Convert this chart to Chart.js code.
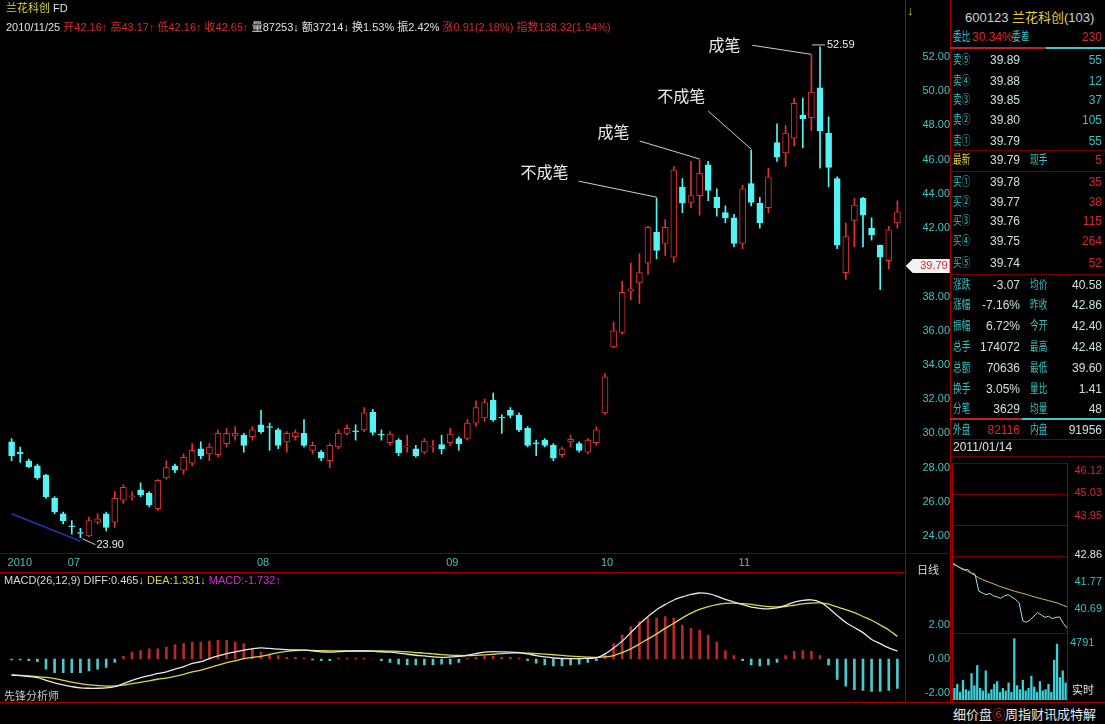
<!DOCTYPE html>
<html><head><meta charset="utf-8">
<script src="https://cdn.jsdelivr.net/npm/chart.js@4.4.0/dist/chart.umd.min.js"></script>
<style>
html,body{margin:0;padding:0;background:#000;}
#root{position:relative;width:1105px;height:724px;overflow:hidden;background:#000;font-family:"Liberation Sans","Noto Sans CJK SC",sans-serif;}
canvas{position:absolute;}
.t{position:absolute;white-space:nowrap;line-height:1;}
.ln{position:absolute;}
</style></head><body><div id="root">
<canvas id="kc" width="950" height="572" style="left:0;top:0"></canvas>
<canvas id="mc" width="950" height="131" style="left:0;top:572px"></canvas>
<canvas id="ic" width="114" height="170" style="left:953px;top:463px"></canvas>
<canvas id="vc" width="114" height="67" style="left:953px;top:633px"></canvas>
</div>
<script>
// ---------------- DATA ----------------
const opens = [29.5,28.9,28.4,28.1,27.55,26.2,25.3,24.6,24.2,24.0,24.8,25.3,24.8,26.1,26.3,26.7,26.5,25.6,27.4,28.1,27.85,28.25,29.1,28.8,28.75,29.4,29.85,29.9,29.8,30.5,30.4,30.2,29.5,29.8,30.0,29.0,28.9,28.4,29.2,30.0,30.15,30.2,31.25,29.95,29.45,29.6,29.2,29.1,28.9,29.2,29.35,29.45,29.7,29.7,30.6,30.9,31.95,30.95,31.35,31.05,30.3,29.45,29.6,29.3,28.75,29.5,29.4,28.9,29.45,31.2,35.05,35.9,38.3,38.8,39.95,41.75,41.1,40.3,44.4,43.5,43.9,45.7,43.8,42.9,42.6,41.1,44.6,43.45,43.2,47.0,46.4,47.25,48.6,48.45,50.2,47.55,44.9,39.4,42.45,43.75,42.0,41.0,40.1,42.3];
const highs = [29.7,29.2,28.5,28.2,27.6,26.3,25.4,24.9,24.45,25.1,25.3,25.4,26.6,27.0,26.6,27.1,26.6,27.3,28.4,28.2,28.8,29.4,29.5,29.4,30.2,30.3,30.4,30.0,30.4,31.35,30.6,30.3,30.1,30.2,30.8,29.5,29.0,29.4,30.2,30.5,30.5,31.5,31.4,30.2,30.1,29.7,29.9,29.3,29.7,29.6,29.9,30.3,29.8,30.8,31.9,32.0,32.35,31.1,31.5,31.2,30.4,29.6,29.7,29.4,29.2,29.9,29.5,29.7,30.4,33.5,36.5,38.9,39.95,40.5,42.1,43.75,42.5,45.6,44.9,45.9,45.98,45.9,44.3,43.3,42.8,44.5,46.56,43.8,45.5,48.1,48.0,49.6,49.6,52.1,52.59,48.5,45.0,42.3,43.75,43.8,42.6,41.0,42.1,43.6];
const lows = [28.4,28.3,28.0,27.3,26.2,25.3,24.7,24.1,23.9,23.95,24.7,24.3,24.5,25.9,26.1,26.3,25.7,25.5,27.3,27.7,27.6,28.1,28.5,28.4,28.6,29.2,29.6,28.9,29.6,30.0,29.0,29.1,28.9,29.6,29.2,28.8,28.4,28.0,29.1,29.9,29.6,30.1,29.9,29.6,29.3,28.7,28.9,28.6,28.8,28.9,28.8,29.3,29.0,29.6,30.4,30.7,30.7,30.0,30.9,30.1,29.2,28.7,29.2,28.4,28.6,29.2,28.9,28.8,29.3,31.1,35.0,35.8,37.8,37.6,39.3,40.2,40.4,40.0,42.9,43.2,42.76,43.6,42.7,42.3,40.9,40.8,43.3,42.0,42.9,45.9,45.6,46.8,46.7,47.7,45.5,44.4,40.8,39.0,40.9,40.9,41.3,38.4,39.6,42.0];
const closes = [28.7,28.8,28.05,27.4,26.3,25.4,24.9,24.55,24.15,24.9,25.0,24.5,26.2,26.85,26.35,26.4,25.8,27.25,28.0,27.85,28.6,29.0,28.7,29.2,30.0,30.0,30.0,29.3,30.2,30.1,30.35,29.3,30.0,30.05,29.3,29.3,28.55,29.3,30.0,30.3,30.1,31.2,30.05,29.9,29.95,28.85,29.25,28.7,29.55,29.25,29.1,29.95,29.4,30.6,31.5,31.8,30.8,30.9,31.05,30.2,29.3,29.4,29.3,28.55,29.1,29.65,29.0,29.6,30.2,33.3,36.0,38.25,38.45,39.4,42.05,40.7,42.05,45.4,43.45,43.9,45.2,44.2,43.2,42.6,41.1,44.3,43.5,42.3,45.0,46.15,47.55,49.3,48.4,49.95,47.7,45.55,41.0,41.5,43.35,42.75,41.6,40.3,41.9,42.95];

const diffVals = [-0.94,-0.98,-1.03,-1.10,-1.25,-1.40,-1.52,-1.62,-1.70,-1.72,-1.72,-1.70,-1.62,-1.45,-1.26,-1.10,-0.98,-0.85,-0.76,-0.60,-0.45,-0.26,-0.16,0.02,0.18,0.32,0.42,0.52,0.60,0.65,0.62,0.58,0.55,0.53,0.52,0.48,0.42,0.40,0.43,0.46,0.47,0.47,0.46,0.42,0.40,0.35,0.28,0.22,0.18,0.12,0.10,0.12,0.15,0.22,0.32,0.40,0.43,0.42,0.41,0.38,0.30,0.20,0.12,0.06,0.03,0.02,0.02,0.04,0.06,0.30,0.65,1.05,1.55,2.05,2.50,2.90,3.20,3.47,3.65,3.80,3.88,3.84,3.70,3.50,3.35,3.20,3.05,2.98,2.95,3.00,3.15,3.35,3.45,3.48,3.35,3.00,2.55,2.15,1.85,1.55,1.15,0.90,0.65,0.465];
const deaVals = [-0.94,-0.96,-0.99,-1.03,-1.08,-1.15,-1.25,-1.36,-1.45,-1.52,-1.56,-1.59,-1.59,-1.53,-1.45,-1.38,-1.28,-1.19,-1.12,-1.02,-0.90,-0.76,-0.65,-0.50,-0.36,-0.22,-0.10,0.02,0.10,0.16,0.26,0.38,0.45,0.50,0.52,0.50,0.49,0.48,0.47,0.47,0.47,0.47,0.47,0.47,0.46,0.45,0.42,0.38,0.35,0.30,0.26,0.23,0.21,0.20,0.21,0.24,0.28,0.32,0.35,0.36,0.35,0.32,0.29,0.25,0.21,0.17,0.14,0.11,0.09,0.12,0.20,0.38,0.60,0.88,1.18,1.48,1.80,2.10,2.42,2.70,2.92,3.08,3.20,3.27,3.28,3.26,3.21,3.14,3.08,3.06,3.08,3.16,3.24,3.29,3.30,3.22,3.06,2.90,2.72,2.50,2.28,2.00,1.70,1.331];
const macdVals = [-0.05,-0.05,-0.1,-0.15,-0.6,-0.8,-0.8,-0.8,-0.8,-0.7,-0.6,-0.5,-0.2,0.15,0.4,0.5,0.6,0.6,0.7,0.85,0.9,1.0,1.0,1.05,1.1,1.1,1.0,0.9,0.6,0.4,0.3,0.2,0.1,0.1,0.05,-0.05,-0.1,-0.1,0.05,0.05,0.05,0.05,0,-0.1,-0.2,-0.3,-0.35,-0.35,-0.35,-0.35,-0.3,-0.3,-0.2,0.05,0.1,0.15,0.15,0.1,0.1,0.05,-0.1,-0.25,-0.35,-0.4,-0.4,-0.35,-0.3,-0.2,-0.1,0.3,0.9,1.4,1.9,2.2,2.4,2.4,2.5,2.4,2.0,1.8,1.7,1.4,1.0,0.5,0.2,-0.1,-0.35,-0.4,-0.35,-0.2,0.2,0.45,0.5,0.45,0.2,-0.35,-1.2,-1.6,-1.8,-1.85,-1.9,-1.9,-1.85,-1.732];

const categories = opens.map((_, i) => 'D' + (i + 1));
const monthTickIdx = [0, 7, 29, 51, 69, 85];
const monthTickText = ['2010', '07', '08', '09', '10', '11'];
const priceTicks = [24, 26, 28, 30, 32, 34, 36, 38, 42, 44, 46, 48, 50, 52];
const macdTicks = [-2, 0, 2];

const trendIdx = [0, 8];
const trendVal = [25.3, 23.7];

const calloutText = ['不成笔', '成笔', '不成笔', '成笔'];
const calloutIdx = [75, 80, 86, 93];
const highLabelIdx = 94;   // 52.59
const lowLabelIdx = 8;     // 23.90
const lastPrice = 39.79;

// intraday mini chart
const intraPrice = [42.57,42.45,42.35,42.28,42.30,42.15,42.10,41.40,41.32,41.25,41.30,41.20,41.15,41.10,41.20,41.25,41.15,41.05,40.90,40.15,40.10,40.20,40.35,40.50,40.40,40.30,40.35,40.25,40.30,40.32,40.05,39.86];
const intraAvg = [42.50,42.45,42.38,42.30,42.22,42.14,42.05,41.95,41.88,41.82,41.76,41.70,41.64,41.58,41.53,41.48,41.43,41.38,41.34,41.30,41.26,41.21,41.16,41.12,41.08,41.04,41.00,40.96,40.92,40.86,40.80,40.75];
const intraVol = [900,1200,600,1500,800,700,2000,1100,2600,900,700,2200,500,800,1200,1400,600,900,700,1300,600,4600,1100,800,1500,700,900,1800,1000,600,1400,700,800,1200,600,3000,4200,1700,2200,1300];

// quote panel
const sellLabels = ['卖⑤','卖④','卖③','卖②','卖①'];
const sellPrices = ['39.89','39.88','39.85','39.80','39.79'];
const sellVols = ['55','12','37','105','55'];
const buyLabels = ['买①','买②','买③','买④','买⑤'];
const buyPrices = ['39.78','39.77','39.76','39.75','39.74'];
const buyVols = ['35','38','115','264','52'];
const statLabelsL = ['涨跌','涨幅','振幅','总手','总额','换手','分笔'];
const statValsL = ['-3.07','-7.16%','6.72%','174072','70636','3.05%','3629'];
const statLabelsR = ['均价','昨收','今开','最高','最低','量比','均量'];
const statValsR = ['40.58','42.86','42.40','42.48','39.60','1.41','48'];
const intraLabels = ['46.12','45.03','43.95','42.86','41.77','40.69'];

// ---------------- STYLE / LAYOUT ----------------
const C = { up:'#e03232', down:'#54f4f4', tick:'#46c2c2', frame:'#a00000', dim:'#700000',
            lbl:'#38c0c0', val:'#c8e0e0', red:'#d42a2a', yel:'#e0d040', white:'#e0e0e0' };
const calloutTextOff = [[-136,-25],[-102,-27],[-94,-53],[-103,-9]];
const calloutLineOff = [[-78,-16],[-60,-18],[-43,-38],[-59,-9]];
const NARROW = { transform: 'scaleX(0.72)', transformOrigin: 'left center' };

Chart.defaults.font.family = 'Liberation Sans';

const wicks = lows.map((l, i) => [l, highs[i]]);
const bodies = opens.map((o, i) => [o, closes[i]]);
const isUp = opens.map((o, i) => closes[i] >= o);
const trendLine = opens.map(() => null);
trendIdx.forEach((idx, k) => { trendLine[idx] = trendVal[k]; });

const fitRight = s => { s.width = 48.3; s.paddingTop = 0; s.paddingBottom = 0; };

const kPlugin = {
  id: 'kextras',
  afterDraw(chart) {
    const { ctx, chartArea, scales: { x, y } } = chart;
    ctx.save();
    ctx.textBaseline = 'middle';
    ctx.font = '11px "Liberation Sans"';
    ctx.fillStyle = C.tick; ctx.textAlign = 'left';
    monthTickIdx.forEach((idx, k) => ctx.fillText(monthTickText[k], x.getPixelForValue(idx) - 4, chartArea.bottom + 13));
    ctx.strokeStyle = '#cfcfcf'; ctx.lineWidth = 1; ctx.fillStyle = '#ececec';
    ctx.font = '16px "Noto Sans CJK SC"';
    calloutIdx.forEach((idx, k) => {
      const ax = x.getPixelForValue(idx), ay = y.getPixelForValue(highs[idx]) - 1;
      ctx.beginPath();
      ctx.moveTo(ax + calloutLineOff[k][0], ay + calloutLineOff[k][1]);
      ctx.lineTo(ax, ay); ctx.stroke();
      ctx.fillText(calloutText[k], ax + calloutTextOff[k][0], ay + calloutTextOff[k][1]);
    });
    ctx.font = '11px "Liberation Sans"';
    const hx = x.getPixelForValue(highLabelIdx), hy = y.getPixelForValue(highs[highLabelIdx]) - 2;
    ctx.beginPath(); ctx.moveTo(hx - 8, hy); ctx.lineTo(hx + 5, hy); ctx.stroke();
    ctx.fillText(highs[highLabelIdx].toFixed(2), hx + 7, hy);
    const lx = x.getPixelForValue(lowLabelIdx), ly = y.getPixelForValue(lows[lowLabelIdx]);
    ctx.beginPath(); ctx.moveTo(lx + 2, ly + 1); ctx.lineTo(lx + 15, ly + 7); ctx.stroke();
    ctx.fillText(lows[lowLabelIdx].toFixed(2), lx + 16, ly + 7);
    const py = y.getPixelForValue(lastPrice), px = chartArea.right + 4;
    ctx.fillStyle = '#f2f2f2';
    ctx.beginPath(); ctx.moveTo(px, py); ctx.lineTo(px + 7, py - 7); ctx.lineTo(px + 44, py - 7);
    ctx.lineTo(px + 44, py + 7); ctx.lineTo(px + 7, py + 7); ctx.closePath(); ctx.fill();
    ctx.fillStyle = '#e02020'; ctx.textAlign = 'right';
    ctx.fillText(lastPrice.toFixed(2), px + 42, py + 0.5);
    ctx.restore();
  }
};

new Chart(document.getElementById('kc'), {
  type: 'bar',
  data: { labels: categories, datasets: [
    { type: 'line', data: trendLine, borderColor: '#2a36b8', borderWidth: 1.5, pointRadius: 0, spanGaps: true, order: 3 },
    { data: wicks, backgroundColor: isUp.map(u => u ? C.up : C.down), barThickness: 1, grouped: false, order: 2 },
    { data: bodies, backgroundColor: isUp.map(u => u ? '#000' : C.down), borderColor: isUp.map(u => u ? C.up : C.down),
      borderWidth: 1, borderSkipped: false, barThickness: 6, grouped: false, order: 1 }
  ]},
  options: {
    responsive: false, animation: false, events: [],
    layout: { padding: { left: 7.3, right: 0, top: 10, bottom: 22 } },
    plugins: { legend: { display: false }, tooltip: { enabled: false } },
    scales: {
      x: { display: false, offset: true },
      y: { position: 'right', min: 23.18, max: 54.75,
        afterFit: fitRight,
        afterBuildTicks: s => { s.ticks = priceTicks.map(v => ({ value: v })); },
        ticks: { color: C.tick, font: { size: 11 }, padding: 15, crossAlign: 'far', callback: v => Number(v).toFixed(2) },
        grid: { color: 'rgba(100,0,0,0.3)', drawTicks: false },
        border: { display: false, dash: [2, 4] }
      }
    }
  },
  plugins: [kPlugin]
});

new Chart(document.getElementById('mc'), {
  type: 'bar',
  data: { labels: categories, datasets: [
    { type: 'line', data: diffVals, borderColor: '#e8e8e8', borderWidth: 1.3, pointRadius: 0, tension: 0.3, order: 1 },
    { type: 'line', data: deaVals, borderColor: '#d8d84a', borderWidth: 1.3, pointRadius: 0, tension: 0.3, order: 2 },
    { data: macdVals, backgroundColor: macdVals.map(v => v >= 0 ? '#b82828' : '#4cc8cc'), barThickness: 2, order: 3 }
  ]},
  options: {
    responsive: false, animation: false, events: [],
    layout: { padding: { left: 7.3, right: 0, top: 13, bottom: 3 } },
    plugins: { legend: { display: false }, tooltip: { enabled: false } },
    scales: {
      x: { display: false, offset: true },
      y: { position: 'right', min: -2.41, max: 4.35,
        afterFit: fitRight,
        afterBuildTicks: s => { s.ticks = macdTicks.map(v => ({ value: v })); },
        ticks: { color: C.tick, font: { size: 11 }, padding: 13, crossAlign: 'far', callback: v => Number(v).toFixed(2) },
        grid: { display: false }, border: { display: false }
      }
    }
  }
});

new Chart(document.getElementById('ic'), {
  type: 'line',
  data: { labels: intraPrice.map((_, i) => i), datasets: [
    { data: intraAvg, borderColor: '#d8b868', borderWidth: 1, pointRadius: 0 },
    { data: intraPrice, borderColor: '#a8e4ec', borderWidth: 1, pointRadius: 0 }
  ]},
  options: { responsive: false, animation: false, events: [],
    plugins: { legend: { display: false }, tooltip: { enabled: false } },
    scales: { x: { display: false }, y: { display: false, min: 39.65, max: 46.74 } } }
});

new Chart(document.getElementById('vc'), {
  type: 'bar',
  data: { labels: intraVol.map((_, i) => i), datasets: [
    { data: intraVol, backgroundColor: '#3ed0d8', barPercentage: 0.8, categoryPercentage: 1 }
  ]},
  options: { responsive: false, animation: false, events: [],
    plugins: { legend: { display: false }, tooltip: { enabled: false } },
    scales: { x: { display: false }, y: { display: false, min: 0, max: 5000 } } }
});

// ---------------- TEXT & FRAME ----------------
const root = document.getElementById('root');
function txt(x, y, s, color, size, align, extra) {
  const e = document.createElement('div'); e.className = 't';
  e.textContent = s; e.style.color = color; e.style.fontSize = size + 'px';
  e.style.top = (y - size / 2) + 'px';
  if (align === 'right') { e.style.left = (x - 300) + 'px'; e.style.width = '300px'; e.style.textAlign = 'right'; }
  else if (align === 'center') { e.style.left = (x - 150) + 'px'; e.style.width = '300px'; e.style.textAlign = 'center'; }
  else e.style.left = x + 'px';
  if (extra) Object.assign(e.style, extra);
  root.appendChild(e); return e;
}
function rich(x, y, size, parts, extra) {
  const e = document.createElement('div'); e.className = 't';
  e.style.left = x + 'px'; e.style.top = (y - size / 2) + 'px'; e.style.fontSize = size + 'px';
  parts.forEach(([s, c]) => { const sp = document.createElement('span'); sp.textContent = s; sp.style.color = c; e.appendChild(sp); });
  if (extra) Object.assign(e.style, extra);
  root.appendChild(e); return e;
}
function box(x, y, w, h, color) {
  const e = document.createElement('div'); e.className = 'ln';
  Object.assign(e.style, { left: x + 'px', top: y + 'px', width: w + 'px', height: h + 'px', background: color });
  root.appendChild(e);
}
box(905, 0, 1, 703, C.frame);
box(950, 0, 1, 703, C.frame);
box(0, 553, 951, 1, C.dim);
box(0, 572, 906, 1, C.frame);
box(0, 702, 1105, 1, C.frame);
box(950, 47, 96, 2, '#c02020'); box(1046, 47, 59, 2, '#40c8c8');
box(950, 150, 155, 1, C.dim);
box(950, 171, 155, 1, C.dim);
box(950, 274, 155, 1, C.dim);
box(950, 418, 72, 2, '#c02020'); box(1022, 418, 83, 2, '#40c8c8');
box(950, 439, 155, 1, C.dim);
box(950, 456, 155, 1, C.dim);
[463, 494, 525, 556, 633].forEach(yy => box(952, yy, 116, 1, C.dim));
box(952, 463, 1, 240, C.frame);
box(1067, 463, 1, 240, C.frame);

rich(6, 8, 11, [['兰花科创', '#d8d840'], [' FD', '#e0e0e0']]);
rich(6, 27, 11, [['2010/11/25 ', '#e0e0e0'], ['开42.16↑ ', C.red], ['高43.17↑ ', C.red], ['低42.16↑ ', C.red], ['收42.65↑ ', C.red],
  ['量87253↓ ', '#e0e0e0'], ['额37214↓ ', '#e0e0e0'], ['换1.53% ', '#e0e0e0'], ['振2.42% ', '#e0e0e0'],
  ['涨0.91(2.18%) ', C.red], ['指数138.32(1.94%)', C.red]]);
rich(4, 580, 11, [['MACD(26,12,9) DIFF:0.465↓ ', '#d8d8d8'], ['DEA:1.331↓ ', '#d8d840'], ['MACD:-1.732↑', '#d030d0']]);
txt(4, 696, '先锋分析师', '#c8c8c8', 11);
txt(917, 570, '日线', '#d8d8d8', 11);
txt(907, 10, '↓', '#e0c020', 13);

rich(965, 17, 13, [['600123 ', '#d0d0d0'], ['兰花科创', C.yel], ['(103)', '#d0d0d0']]);
txt(953, 37, '委比', C.lbl, 12, 'left', NARROW); txt(972, 37, '30.34%', C.red, 12); txt(1012, 37, '委差', C.lbl, 12, 'left', NARROW); txt(1102, 37, '230', C.red, 12, 'right');
const sellY = [60, 81, 100, 120, 141];
sellLabels.forEach((l, i) => {
  txt(953, sellY[i], l, C.lbl, 12, 'left', NARROW); txt(1020, sellY[i], sellPrices[i], C.val, 12, 'right'); txt(1102, sellY[i], sellVols[i], C.lbl, 12, 'right');
});
txt(953, 160, '最新', C.yel, 12, 'left', NARROW); txt(1020, 160, '39.79', C.val, 12, 'right'); txt(1030, 160, '现手', C.lbl, 12, 'left', NARROW); txt(1102, 160, '5', C.red, 12, 'right');
const buyY = [182, 202, 221, 241, 263];
buyLabels.forEach((l, i) => {
  txt(953, buyY[i], l, C.lbl, 12, 'left', NARROW); txt(1020, buyY[i], buyPrices[i], C.val, 12, 'right'); txt(1102, buyY[i], buyVols[i], C.red, 12, 'right');
});
const statY = [285, 305, 326, 347, 368, 389, 409];
statLabelsL.forEach((l, i) => {
  txt(953, statY[i], l, C.lbl, 12, 'left', NARROW); txt(1020, statY[i], statValsL[i], C.val, 12, 'right');
  txt(1030, statY[i], statLabelsR[i], C.lbl, 12, 'left', NARROW); txt(1102, statY[i], statValsR[i], C.val, 12, 'right');
});
txt(953, 430, '外盘', C.lbl, 12, 'left', NARROW); txt(1020, 430, '82116', C.red, 12, 'right'); txt(1030, 430, '内盘', C.lbl, 12, 'left', NARROW); txt(1102, 430, '91956', C.val, 12, 'right');
txt(953, 447, '2011/01/14', '#e0e0e0', 12);
const intraLabelY = [470, 492, 515, 554, 581, 608];
const intraLabelC = [C.red, C.red, C.red, '#e0e0e0', C.lbl, C.lbl];
intraLabels.forEach((s, i) => txt(1102, intraLabelY[i], s, intraLabelC[i], 11, 'right'));
txt(1070, 642, '4791', C.lbl, 11);
txt(1072, 690, '实时', '#e0e0e0', 11);
rich(953, 714, 13, [['细价盘', '#e8e8e8'], ['⑥', C.red], ['周指财讯成特解', '#e8e8e8']]);
</script></body></html>
